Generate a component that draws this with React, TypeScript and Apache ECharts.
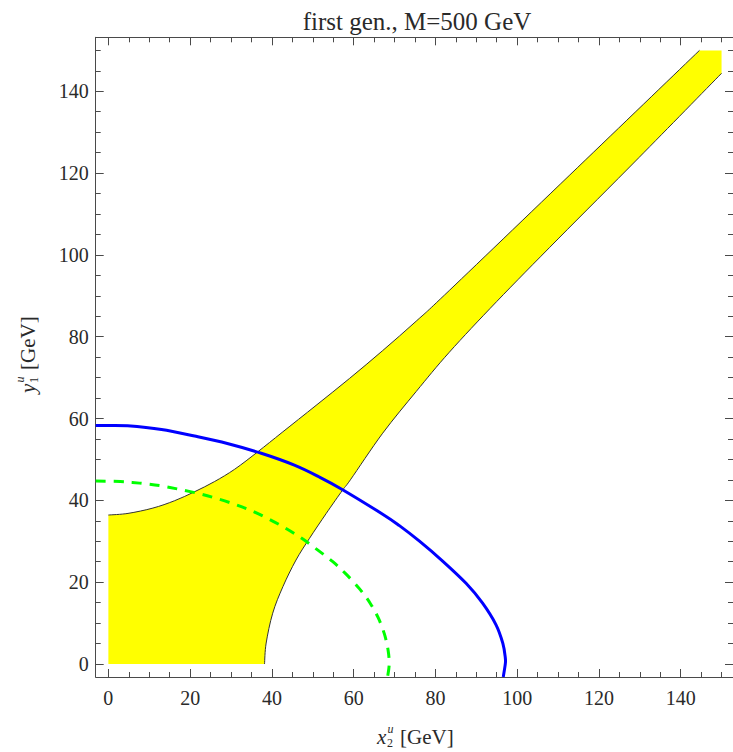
import React, { useEffect, useRef } from "react";
import * as echarts from "echarts";

// ---- data ----
const xMajor = [0, 20, 40, 60, 80, 100, 120, 140];
const yMajor = [0, 20, 40, 60, 80, 100, 120, 140];
const minorTicks = [5, 10, 15, 25, 30, 35, 45, 50, 55, 65, 70, 75, 85, 90, 95, 105, 110, 115, 125, 130, 135, 145, 150];

// upper-left boundary of the yellow band
const upperEdge: number[][] = [
  [0, 36.4], [4.8, 36.8], [10.9, 38.1], [16.2, 39.9], [21.1, 42.1], [26, 44.6],
  [30.9, 47.6], [36.6, 51.9], [42.5, 56.6], [50.8, 63.2], [59, 69.8], [67.1, 76.6],
  [75.3, 83.8], [83.4, 91.3], [116.8, 123.3], [144.6, 150],
];
// lower-right boundary of the yellow band
const lowerEdge: number[][] = [
  [38.2, 0], [38.6, 5.1], [40.2, 12.4], [42.7, 18.9], [45.9, 25.4], [49.2, 30.7],
  [53.3, 36.8], [57.3, 42.5], [59.2, 45], [67.1, 56.4], [75.3, 66.6], [83.4, 76.2],
  [95, 88.6], [110, 103.9], [129.8, 123.8], [150, 144.4],
];
// corners of the filled band that lie on straight edges
const bandStart = [0, 0];
const bandCorner = [150, 150];
// blue solid contour
const blueCurve: number[][] = [
  [-3.1, 58.3], [0, 58.3], [4.7, 58.2], [13, 57.3], [21.1, 55.7], [29.1, 53.9],
  [37.4, 51.5], [45.5, 48.6], [51.6, 45.7], [57.3, 42.6], [67.1, 36.6], [71.2, 33.8],
  [76.1, 30], [81.7, 25.2], [87.5, 19.7], [91.5, 14.9], [94.8, 9.6], [96.5, 5],
  [97.1, 1.5], [97.1, 0], [96.6, -3.2],
];
// green dashed contour
const greenCurve: number[][] = [
  [-3.1, 44.7], [2.9, 44.6], [7.6, 44.2], [12.5, 43.6], [16.8, 42.8], [21.5, 41.8],
  [26, 40.6], [30.7, 39.1], [34.9, 37.5], [39.1, 35.5], [43.3, 33.2], [47.3, 30.7],
  [51, 28], [54.9, 25], [58.1, 22], [61.4, 18.4], [64, 14.9], [66, 11.3],
  [67.5, 7.4], [68.4, 3.5], [68.7, 0], [68.3, -3.2],
];

const X_MIN = -3.1;
const X_MAX = 152.8;
const Y_MIN = -3.2;
const Y_MAX = 153.2;

const SERIF = "'Liberation Serif', 'DejaVu Serif', 'Times New Roman', serif";
const FRAME = "#4a4a4a";
const TEXT = "#2a2a2a";

function makeAxes(kind: "x" | "y", min: number, max: number) {
  const sides = kind === "x" ? ["bottom", "top"] : ["left", "right"];
  const axes: any[] = [];
  sides.forEach((pos, si) => {
    axes.push({
      type: "value",
      min,
      max,
      position: pos,
      axisLine: { show: true, onZero: false, lineStyle: { color: FRAME, width: 1 } },
      axisTick: {
        show: true,
        inside: true,
        length: 8,
        customValues: kind === "x" ? xMajor : yMajor,
        lineStyle: { color: FRAME, width: 1 },
      },
      axisLabel: {
        show: si === 0,
        customValues: kind === "x" ? xMajor : yMajor,
        margin: kind === "x" ? 11 : 7,
        fontSize: 20,
        color: TEXT,
        fontFamily: SERIF,
      },
      splitLine: { show: false },
    });
    axes.push({
      type: "value",
      min,
      max,
      position: pos,
      axisLine: { show: false, onZero: false },
      axisTick: {
        show: true,
        inside: true,
        length: 5,
        customValues: minorTicks,
        lineStyle: { color: FRAME, width: 1 },
      },
      axisLabel: { show: false },
      splitLine: { show: false },
    });
  });
  return axes;
}

// Catmull-Rom spline through pixel points -> SVG path commands (without the initial M)
function splineSegments(pts: number[][]): string {
  let d = "";
  const n = pts.length;
  for (let i = 0; i < n - 1; i++) {
    const p0 = pts[Math.max(0, i - 1)];
    const p1 = pts[i];
    const p2 = pts[i + 1];
    const p3 = pts[Math.min(n - 1, i + 2)];
    const c1x = p1[0] + (p2[0] - p0[0]) / 6;
    const c1y = p1[1] + (p2[1] - p0[1]) / 6;
    const c2x = p2[0] - (p3[0] - p1[0]) / 6;
    const c2y = p2[1] - (p3[1] - p1[1]) / 6;
    d += ` C ${c1x} ${c1y} ${c2x} ${c2y} ${p2[0]} ${p2[1]}`;
  }
  return d;
}

function curveSeries(points: number[][], style: any, z: number) {
  return {
    type: "custom",
    xAxisIndex: 0,
    yAxisIndex: 0,
    z,
    data: [[0, 0]],
    silent: true,
    renderItem: (_params: any, api: any) => {
      const px = points.map((p) => api.coord(p));
      return {
        type: "path",
        shape: { pathData: `M ${px[0][0]} ${px[0][1]}` + splineSegments(px) },
        style: { fill: "none", ...style },
      };
    },
  };
}

export default function App() {
  const ref = useRef<HTMLDivElement>(null);

  useEffect(() => {
    if (!ref.current) return;
    const chart = echarts.init(ref.current, undefined, { renderer: "svg" });

    const option: any = {
      animation: false,
      backgroundColor: "#ffffff",
      grid: { left: 95.7, right: 0, top: 37.3, bottom: 75, containLabel: false },
      xAxis: makeAxes("x", X_MIN, X_MAX),
      yAxis: makeAxes("y", Y_MIN, Y_MAX),
      graphic: [
        {
          type: "text",
          x: 417,
          y: 21.5,
          style: {
            text: "first gen., M=500 GeV",
            font: `25px ${SERIF}`,
            fill: TEXT,
            textAlign: "center",
            textVerticalAlign: "middle",
          },
        },
        {
          type: "group",
          x: 377,
          y: 737,
          children: [
            { type: "text", x: 0, y: 0, style: { text: "x", font: `italic 21px ${SERIF}`, fill: TEXT, textVerticalAlign: "middle" } },
            { type: "text", x: 10.5, y: -8, style: { text: "u", font: `italic 12px ${SERIF}`, fill: TEXT, textVerticalAlign: "middle" } },
            { type: "text", x: 10, y: 6, style: { text: "2", font: `12px ${SERIF}`, fill: TEXT, textVerticalAlign: "middle" } },
            { type: "text", x: 23, y: 0, style: { text: "[GeV]", font: `21px ${SERIF}`, fill: TEXT, textVerticalAlign: "middle" } },
          ],
        },
        {
          type: "group",
          x: 28,
          y: 393,
          rotation: Math.PI / 2,
          children: [
            { type: "text", x: 0, y: 0, style: { text: "y", font: `italic 21px ${SERIF}`, fill: TEXT, textVerticalAlign: "middle" } },
            { type: "text", x: 10.5, y: -8, style: { text: "u", font: `italic 12px ${SERIF}`, fill: TEXT, textVerticalAlign: "middle" } },
            { type: "text", x: 10, y: 6, style: { text: "1", font: `12px ${SERIF}`, fill: TEXT, textVerticalAlign: "middle" } },
            { type: "text", x: 23, y: 0, style: { text: "[GeV]", font: `21px ${SERIF}`, fill: TEXT, textVerticalAlign: "middle" } },
          ],
        },
      ],
      series: [
        {
          type: "custom",
          xAxisIndex: 0,
          yAxisIndex: 0,
          z: 2,
          data: [[0, 0]],
          silent: true,
          renderItem: (_params: any, api: any) => {
            const up = upperEdge.map((p) => api.coord(p));
            const lo = lowerEdge.map((p) => api.coord(p));
            const s = api.coord(bandStart);
            const c = api.coord(bandCorner);
            const upRev = up.slice().reverse();
            const fillPath =
              `M ${s[0]} ${s[1]} L ${lo[0][0]} ${lo[0][1]}` +
              splineSegments(lo) +
              ` L ${c[0]} ${c[1]} L ${upRev[0][0]} ${upRev[0][1]}` +
              splineSegments(upRev) +
              " Z";
            const upPath = `M ${up[0][0]} ${up[0][1]}` + splineSegments(up);
            const loPath = `M ${lo[0][0]} ${lo[0][1]}` + splineSegments(lo);
            return {
              type: "group",
              children: [
                { type: "path", shape: { pathData: fillPath }, style: { fill: "#ffff00", stroke: "none" } },
                { type: "path", shape: { pathData: upPath }, style: { fill: "none", stroke: "#333333", lineWidth: 1 } },
                { type: "path", shape: { pathData: loPath }, style: { fill: "none", stroke: "#333333", lineWidth: 1 } },
              ],
            };
          },
        },
        curveSeries(greenCurve, { stroke: "#00ff00", lineWidth: 3, lineDash: [10, 8], lineCap: "butt" }, 3),
        curveSeries(blueCurve, { stroke: "#0000ff", lineWidth: 3, lineJoin: "round" }, 4),
      ],
    };

    chart.setOption(option);
    return () => chart.dispose();
  }, []);

  return (
    <div
      ref={ref}
      style={{ position: "fixed", left: 0, top: 0, width: 733, height: 752, background: "#fff" }}
    />
  );
}
